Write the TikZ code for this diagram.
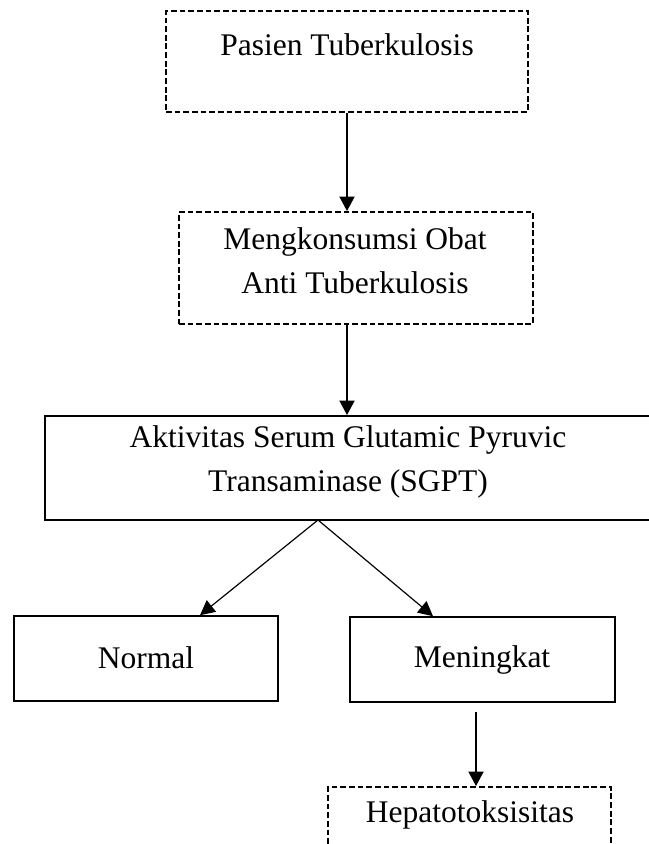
\documentclass[tikz,border=0pt]{standalone}
\usepackage{fontspec}
\setmainfont{Liberation Serif}
\usetikzlibrary{arrows.meta,fit}

\tikzset{
  kotak/.style={draw, line width=0.6pt, inner sep=0pt},
  putus/.style={kotak, dash pattern=on 2.2pt off 1.1pt},
  teks/.style={align=center, inner sep=0pt, font=\fontsize{12}{16.8}\selectfont},
  panah/.style={-{Triangle[length=5.6pt,width=5.6pt]}, line width=1.1pt},
  cabang/.style={-{Triangle[length=5.6pt,width=5.6pt]}, line width=0.45pt}
}

\begin{document}
\begin{tikzpicture}[x=0.381pt, y=-0.381pt]
  \useasboundingbox (0,0) rectangle (649,844);

  % kotak-kotak
  \node[putus, fit={(166,11) (528,112)}] (pasien) {};
  \node[teks] (pasienteks) at (347,45) {Pasien Tuberkulosis};

  \node[putus, fit={(179,212) (533,324)}] (obat) {};
  \node[teks] (obatteks) at (355,261) {Mengkonsumsi Obat\\Anti Tuberkulosis};

  \node[kotak, fit={(45,416) (680,520)}] (sgpt) {};
  \node[teks] (sgptteks) at (348,462) {Aktivitas Serum Glutamic Pyruvic\\Transaminase (SGPT)};

  \node[kotak, fit={(14,616) (278,701)}] (normal) {};
  \node[teks] (normalteks) at (146,658) {Normal};

  \node[kotak, fit={(350,617) (615,702)}] (naik) {};
  \node[teks] (naikteks) at (482,660) {Meningkat};

  \node[putus, fit={(328,787) (611,880)}] (hepato) {};
  \node[teks] (hepatoteks) at (470,815) {Hepatotoksisitas};

  % panah
  \coordinate (pisah) at (318,520);
  \coordinate (bawahnaik) at (476,712);

  \draw[panah] (pasien.south) -- (pasien.south |- obat.north);
  \draw[panah] (obat.south -| pasien.south) -- (sgpt.north -| pasien.south);
  \draw[cabang] (pisah) -- (normal.north -| 200,0);
  \draw[cabang] (pisah) -- (naik.north -| 433,0);
  \draw[panah] (bawahnaik) -- (hepato.north -| bawahnaik);
\end{tikzpicture}
\end{document}
